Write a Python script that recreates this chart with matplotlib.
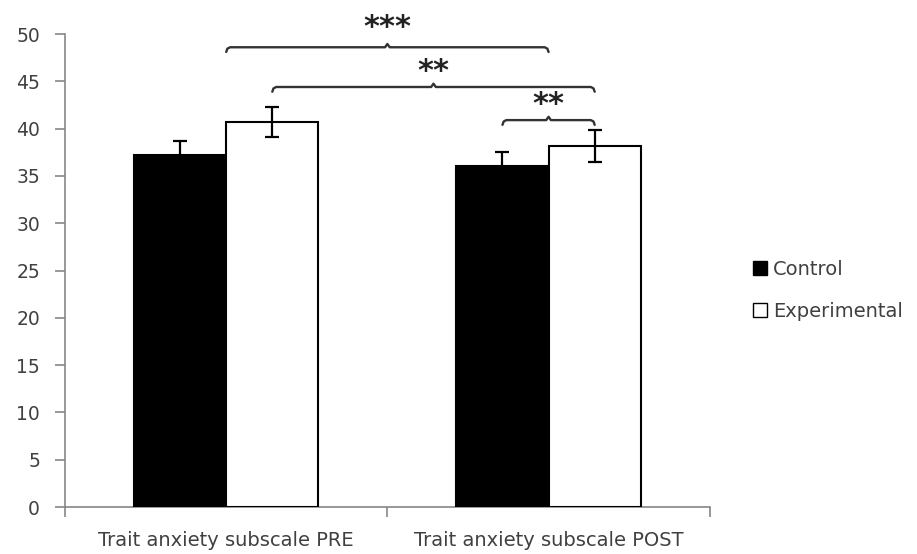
import matplotlib
matplotlib.use("Agg")
import matplotlib.pyplot as plt
from matplotlib.patches import Patch
import numpy as np

plt.rcParams["font.family"] = ["DejaVu Sans"]

categories = ["Trait anxiety subscale PRE", "Trait anxiety subscale POST"]
control = [37.2, 36.1]
control_err = [1.45, 1.45]
experimental = [40.7, 38.2]
experimental_err = [1.6, 1.7]
yticks = [0, 5, 10, 15, 20, 25, 30, 35, 40, 45, 50]

# significance brackets
sig_x0 = [0.0, 0.143, 0.857]
sig_x1 = [1.0, 1.143, 1.143]
sig_y = [48.6, 44.4, 40.9]
sig_labels = ["***", "**", "**"]

grey = "#868686"
txt = "#404040"

fig = plt.figure(figsize=(9.17, 5.54), dpi=100)
ax = fig.add_axes([0.0709, 0.0848, 0.774 - 0.0709, 0.9386 - 0.0848])

x = np.arange(len(categories))
w = 0.286
ax.bar(x - w / 2, control, w, color="black", edgecolor="black", linewidth=1.5,
       yerr=control_err, capsize=4.8, error_kw=dict(elinewidth=1.6, capthick=1.6, ecolor="black"),
       zorder=3)
ax.bar(x + w / 2, experimental, w, color="white", edgecolor="black", linewidth=1.5,
       yerr=experimental_err, capsize=4.8, error_kw=dict(elinewidth=1.6, capthick=1.6, ecolor="black"),
       zorder=3)

ax.set_xlim(-0.5, 1.5)
ax.set_ylim(0, 50)
ax.set_yticks(yticks)
ax.set_yticklabels([str(v) for v in yticks])
ax.set_xticks([-0.5, 0.5, 1.5])
ax.set_xticklabels([])
ax.set_xticks(x, minor=True)
ax.set_xticklabels(categories, minor=True)
ax.tick_params(axis="x", which="minor", length=0, pad=17, labelsize=14, labelcolor=txt)
ax.tick_params(axis="x", which="major", length=7, width=1.2, color=grey, direction="out")
ax.tick_params(axis="y", length=7, width=1.2, color=grey, direction="out", labelsize=13.5,
               labelcolor=txt, pad=11)
for s in ["top", "right"]:
    ax.spines[s].set_visible(False)
for s in ["left", "bottom"]:
    ax.spines[s].set_color(grey)
    ax.spines[s].set_linewidth(1.2)

# brackets
d = 0.5
star_offsets = [1.2, 0.7, 0.7]
for x0, x1, y, lab, off in zip(sig_x0, sig_x1, sig_y, sig_labels, star_offsets):
    xm = (x0 + x1) / 2
    r = 0.012
    xs = [x0, x0 + r * 0.3, x0 + r, xm - r * 0.6, xm, xm + r * 0.6, x1 - r, x1 - r * 0.3, x1]
    ys = [y - d, y - d * 0.3, y, y, y + 0.35, y, y, y - d * 0.3, y - d]
    ax.plot(xs, ys, color="#333333", lw=1.7, clip_on=False, zorder=4,
            solid_joinstyle="round", solid_capstyle="round")
    ax.text(xm, y + off, lab, ha="center", va="baseline", fontsize=22, fontweight="bold",
            color="#222222", clip_on=False)

handles = [Patch(facecolor="black", edgecolor="black", label="Control"),
           Patch(facecolor="white", edgecolor="black", label="Experimental")]
leg = fig.legend(handles=handles, loc="center left", bbox_to_anchor=(0.821, 0.476),
                 frameon=False, fontsize=14, handlelength=0.72, handleheight=0.72,
                 handletextpad=0.3, labelspacing=1.2, borderaxespad=0, borderpad=0)
for t in leg.get_texts():
    t.set_color(txt)

fig.savefig("out.png", dpi=100)
